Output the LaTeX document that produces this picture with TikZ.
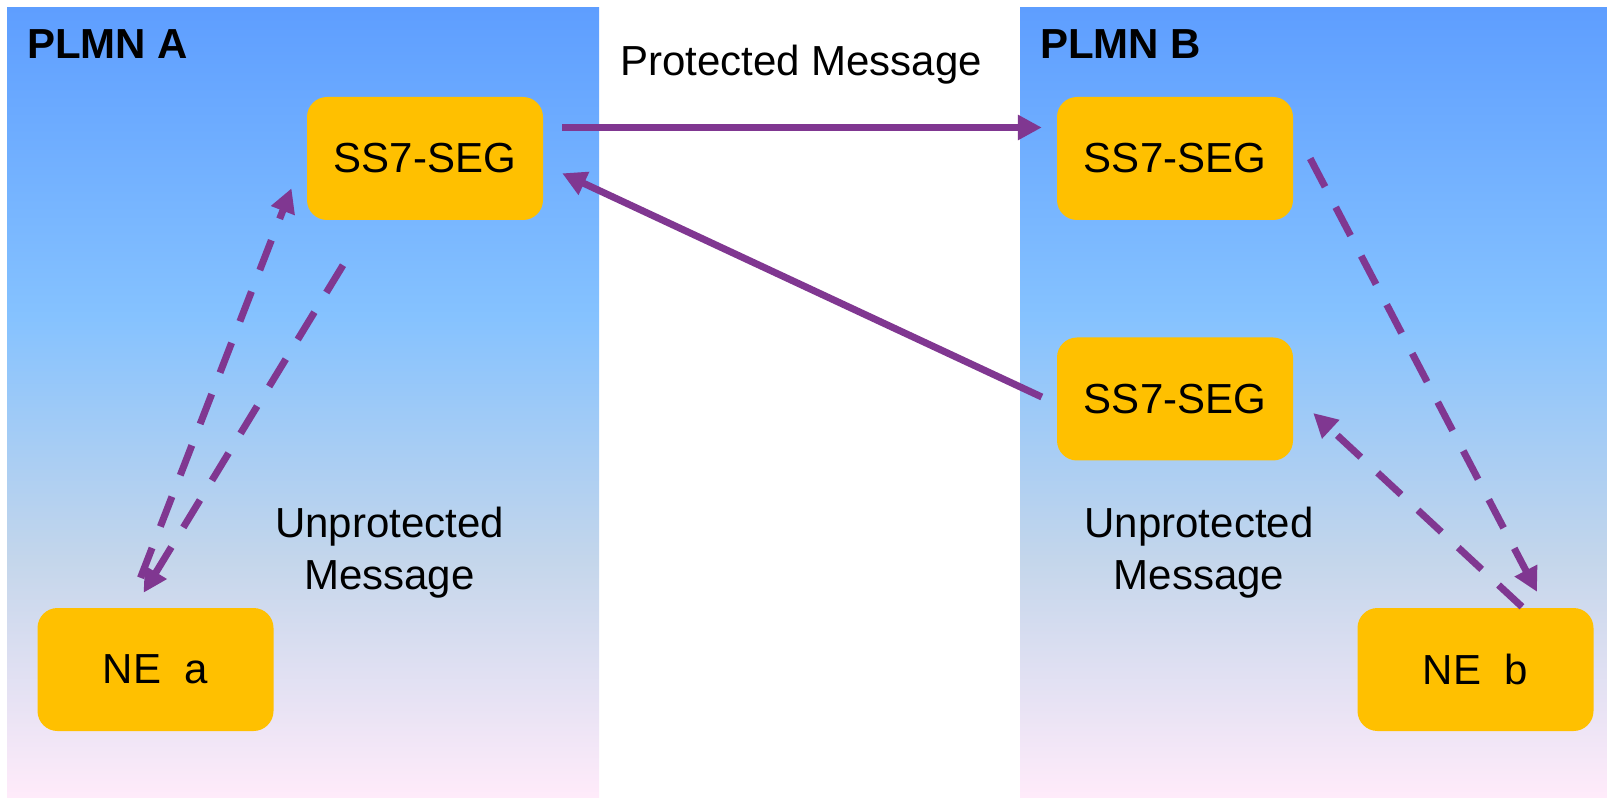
\documentclass[tikz,border=0pt]{standalone}
\usepackage{fontspec}
\setmainfont{Liberation Sans}
\usetikzlibrary{arrows.meta,calc}

\definecolor{ptop}{RGB}{94,158,255}
\definecolor{pmidA}{RGB}{133,194,255}
\definecolor{pmidB}{RGB}{196,214,235}
\definecolor{pbot}{RGB}{255,235,250}
\definecolor{boxgold}{RGB}{255,192,0}
\definecolor{msgpurple}{RGB}{128,55,145}

% vertical blue-to-pink fill of the two network areas
\pgfdeclareverticalshading{panelfill}{100bp}{%
  color(0bp)=(pbot); color(25bp)=(pbot); color(40bp)=(pmidB);
  color(55.5bp)=(pmidA); color(75bp)=(ptop); color(100bp)=(ptop)}

\begin{document}
\begin{tikzpicture}[x=1pt,y=-1pt,
  box/.style={fill=boxgold, rounded corners=20pt, minimum width=236pt,
    minimum height=123pt, inner sep=0pt, font=\fontsize{42}{50}\selectfont},
  lbl/.style={font=\fontsize{42}{52}\selectfont, inner sep=0pt},
  msg/.style={draw=msgpurple, line width=7pt, -{Triangle[length=24pt,width=24pt]}},
  msgdash/.style={msg, dash pattern=on 32pt off 23pt}]

\useasboundingbox (0,0) rectangle (1607,799);
\fill[white] (0,0) rectangle (1607,799);

% network areas
\shade[shading=panelfill] (7,8) rectangle (599,797);
\shade[shading=panelfill] (1020,8) rectangle (1607,797);

% network elements
\node[box] (segA)  at (425,158.5)    {SS7-SEG};
\node[box] (segB1) at (1175,158.5)   {SS7-SEG};
\node[box] (segB2) at (1175,399)     {SS7-SEG};
\node[box] (neA)   at (155.5,669.5)  {NE\ \ a};
\node[box] (neB)   at (1475.5,669.5) {NE\ \ b};

% labels
\node[lbl, anchor=base west] (plmnA) at (27,59)   {\bfseries PLMN A};
\node[lbl, anchor=base west] (plmnB) at (1040,59) {\bfseries PLMN B};
\node[lbl, anchor=base] (prot) at (801,76) {Protected Message};
\node[lbl, align=center] (unA) at (389.5,553) {Unprotected\\Message};
\node[lbl, align=center] (unB) at (1199,553)  {Unprotected\\Message};

% protected messages between the gateways
\draw[msg] ([shift={(19,-31)}]segA.east) -- ([shift={(-15,-31)}]segB1.west);
\draw[msg] ([shift={(-15,-2)}]segB2.west) -- ([shift={(19,14.8)}]segA.east);

% unprotected messages inside PLMN A
\draw[msgdash] ([shift={(-82,45)}]segA.south) -- ([shift={(-12,-15)}]neA.north);
\draw[msgdash] ([shift={(-15,-30)}]neA.north) -- ([shift={(-15.3,29.8)}]segA.west);

% unprotected messages inside PLMN B
\draw[msgdash] ([shift={(17,0)}]segB1.east) -- ([shift={(61.5,-16)}]neB.north);
\draw[msgdash] ([shift={(46.5,-1)}]neB.north) -- ([shift={(20,14)}]segB2.east);
\end{tikzpicture}
\end{document}
